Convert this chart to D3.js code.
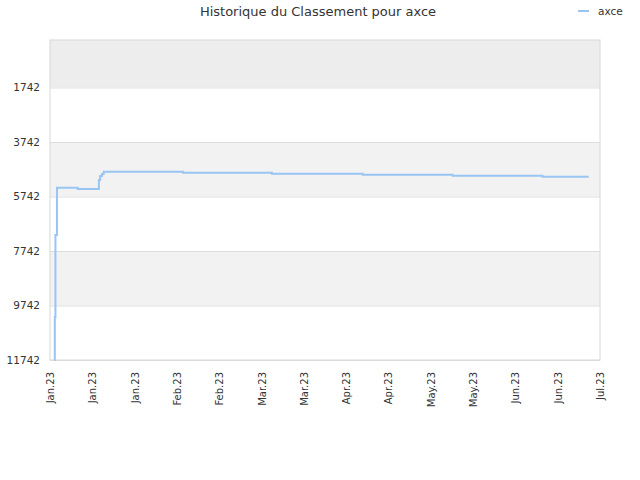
<!DOCTYPE html>
<html>
<head>
<meta charset="utf-8">
<script src="https://cdn.jsdelivr.net/npm/d3@7"></script>
<style>
body { margin: 0; background: #fff; }
text { font-family: "DejaVu Sans", sans-serif; }
</style>
</head>
<body>
<svg></svg>
<script>
// rank history for axce (lower = better)
var dates = ['2023-01-02T11:00', '2023-01-02T14:00', '2023-01-02T19:00', '2023-01-03T07:00',
    '2023-01-10T03:00', '2023-01-17T02:00', '2023-01-17T12:00', '2023-01-18T03:00',
    '2023-01-18T16:00', '2023-02-13T19:00', '2023-03-15T01:00', '2023-04-13T22:00',
    '2023-05-13T12:00', '2023-06-12T02:00', '2023-06-27T07:00'];
var ranks = [11742, 10165, 7156, 5420, 5468, 5140, 4990, 4915, 4833, 4870, 4906, 4943, 4980, 5017, 5017];

var yTicks = [1742, 3742, 5742, 7742, 9742, 11742];
var xTickLabels = ['Jan.23', 'Jan.23', 'Jan.23', 'Feb.23', 'Feb.23', 'Mar.23', 'Mar.23',
    'Apr.23', 'Apr.23', 'May.23', 'May.23', 'Jun.23', 'Jun.23', 'Jul.23'];
var seriesName = 'axce';

var svgWidth = 640, svgHeight = 480;
var plotLeft = 50, plotRight = 600, plotTop = 40, plotBottom = 360;

var svg = d3.select('svg')
    .attr('width', svgWidth)
    .attr('height', svgHeight);

var parse = d3.isoParse;
var data = dates.map(function(d, i) { return { date: parse(d), rank: ranks[i] }; });

var start = parse('2023-01-01T00:00'), end = parse('2023-07-01T00:00');
var xScale = d3.scaleTime().domain([start, end]).range([plotLeft, plotRight]);
var yScale = d3.scaleLinear().domain([0, 11742]).range([plotTop, plotBottom]);

// plot bands between gridlines
var bandEdges = [0].concat(yTicks);
var bandColors = ['#ededed', '#ffffff', '#f2f2f2', '#ffffff', '#f2f2f2', '#ffffff'];
svg.selectAll('rect.band')
    .data(bandEdges.slice(0, -1))
    .enter()
    .append('rect')
    .attr('class', 'band')
    .attr('x', plotLeft)
    .attr('width', plotRight - plotLeft)
    .attr('y', function(d) { return yScale(d); })
    .attr('height', function(d, i) { return yScale(bandEdges[i + 1]) - yScale(d); })
    .attr('fill', function(d, i) { return bandColors[i]; });

// gridlines + y labels
var yAxis = d3.axisLeft(yScale).tickValues(yTicks).tickFormat(d3.format('d'))
    .tickSize(-(plotRight - plotLeft)).tickPadding(10);
var gy = svg.append('g').attr('transform', 'translate(' + plotLeft + ',0)').call(yAxis);
gy.select('.domain').remove();
gy.selectAll('.tick line').attr('stroke', '#dddddd');
gy.selectAll('.tick text').attr('fill', '#333').style('font-size', '10.5px');

// frame
svg.append('rect')
    .attr('x', plotLeft).attr('y', plotTop)
    .attr('width', plotRight - plotLeft).attr('height', plotBottom - plotTop)
    .attr('fill', 'none').attr('stroke', '#d8d8d8');

// x axis: evenly spaced ticks
var n = xTickLabels.length - 1;
var xTickDates = xTickLabels.map(function(d, i) {
    return new Date(+start + (end - start) * i / n);
});
var xAxis = d3.axisBottom(xScale).tickValues(xTickDates).tickSize(0)
    .tickFormat(function(d, i) { return xTickLabels[i]; });
var gx = svg.append('g').attr('transform', 'translate(0,' + plotBottom + ')').call(xAxis);
gx.select('.domain').remove();
gx.selectAll('.tick text')
    .attr('fill', '#333')
    .style('font-size', '10px')
    .attr('text-anchor', 'end')
    .attr('dy', '0.35em')
    .attr('transform', 'translate(0,12) rotate(-90)')
    .attr('x', 0).attr('y', 0);

// the line
var line = d3.line()
    .x(function(d) { return xScale(d.date); })
    .y(function(d) { return yScale(d.rank); })
    .curve(d3.curveStepAfter);
svg.append('path')
    .datum(data)
    .attr('d', line)
    .attr('fill', 'none')
    .attr('stroke', '#99c5f4')
    .attr('stroke-width', 2);

// title
svg.append('text')
    .attr('x', 318).attr('y', 16)
    .attr('text-anchor', 'middle')
    .attr('fill', '#333')
    .style('font-size', '13px')
    .text('Historique du Classement pour ' + seriesName);

// legend
svg.append('line')
    .attr('x1', 578).attr('x2', 589).attr('y1', 11).attr('y2', 11)
    .attr('stroke', '#99c5f4').attr('stroke-width', 2);
svg.append('text')
    .attr('x', 598).attr('y', 15)
    .attr('fill', '#333')
    .style('font-size', '10.5px')
    .text(seriesName);
</script>
</body>
</html>
